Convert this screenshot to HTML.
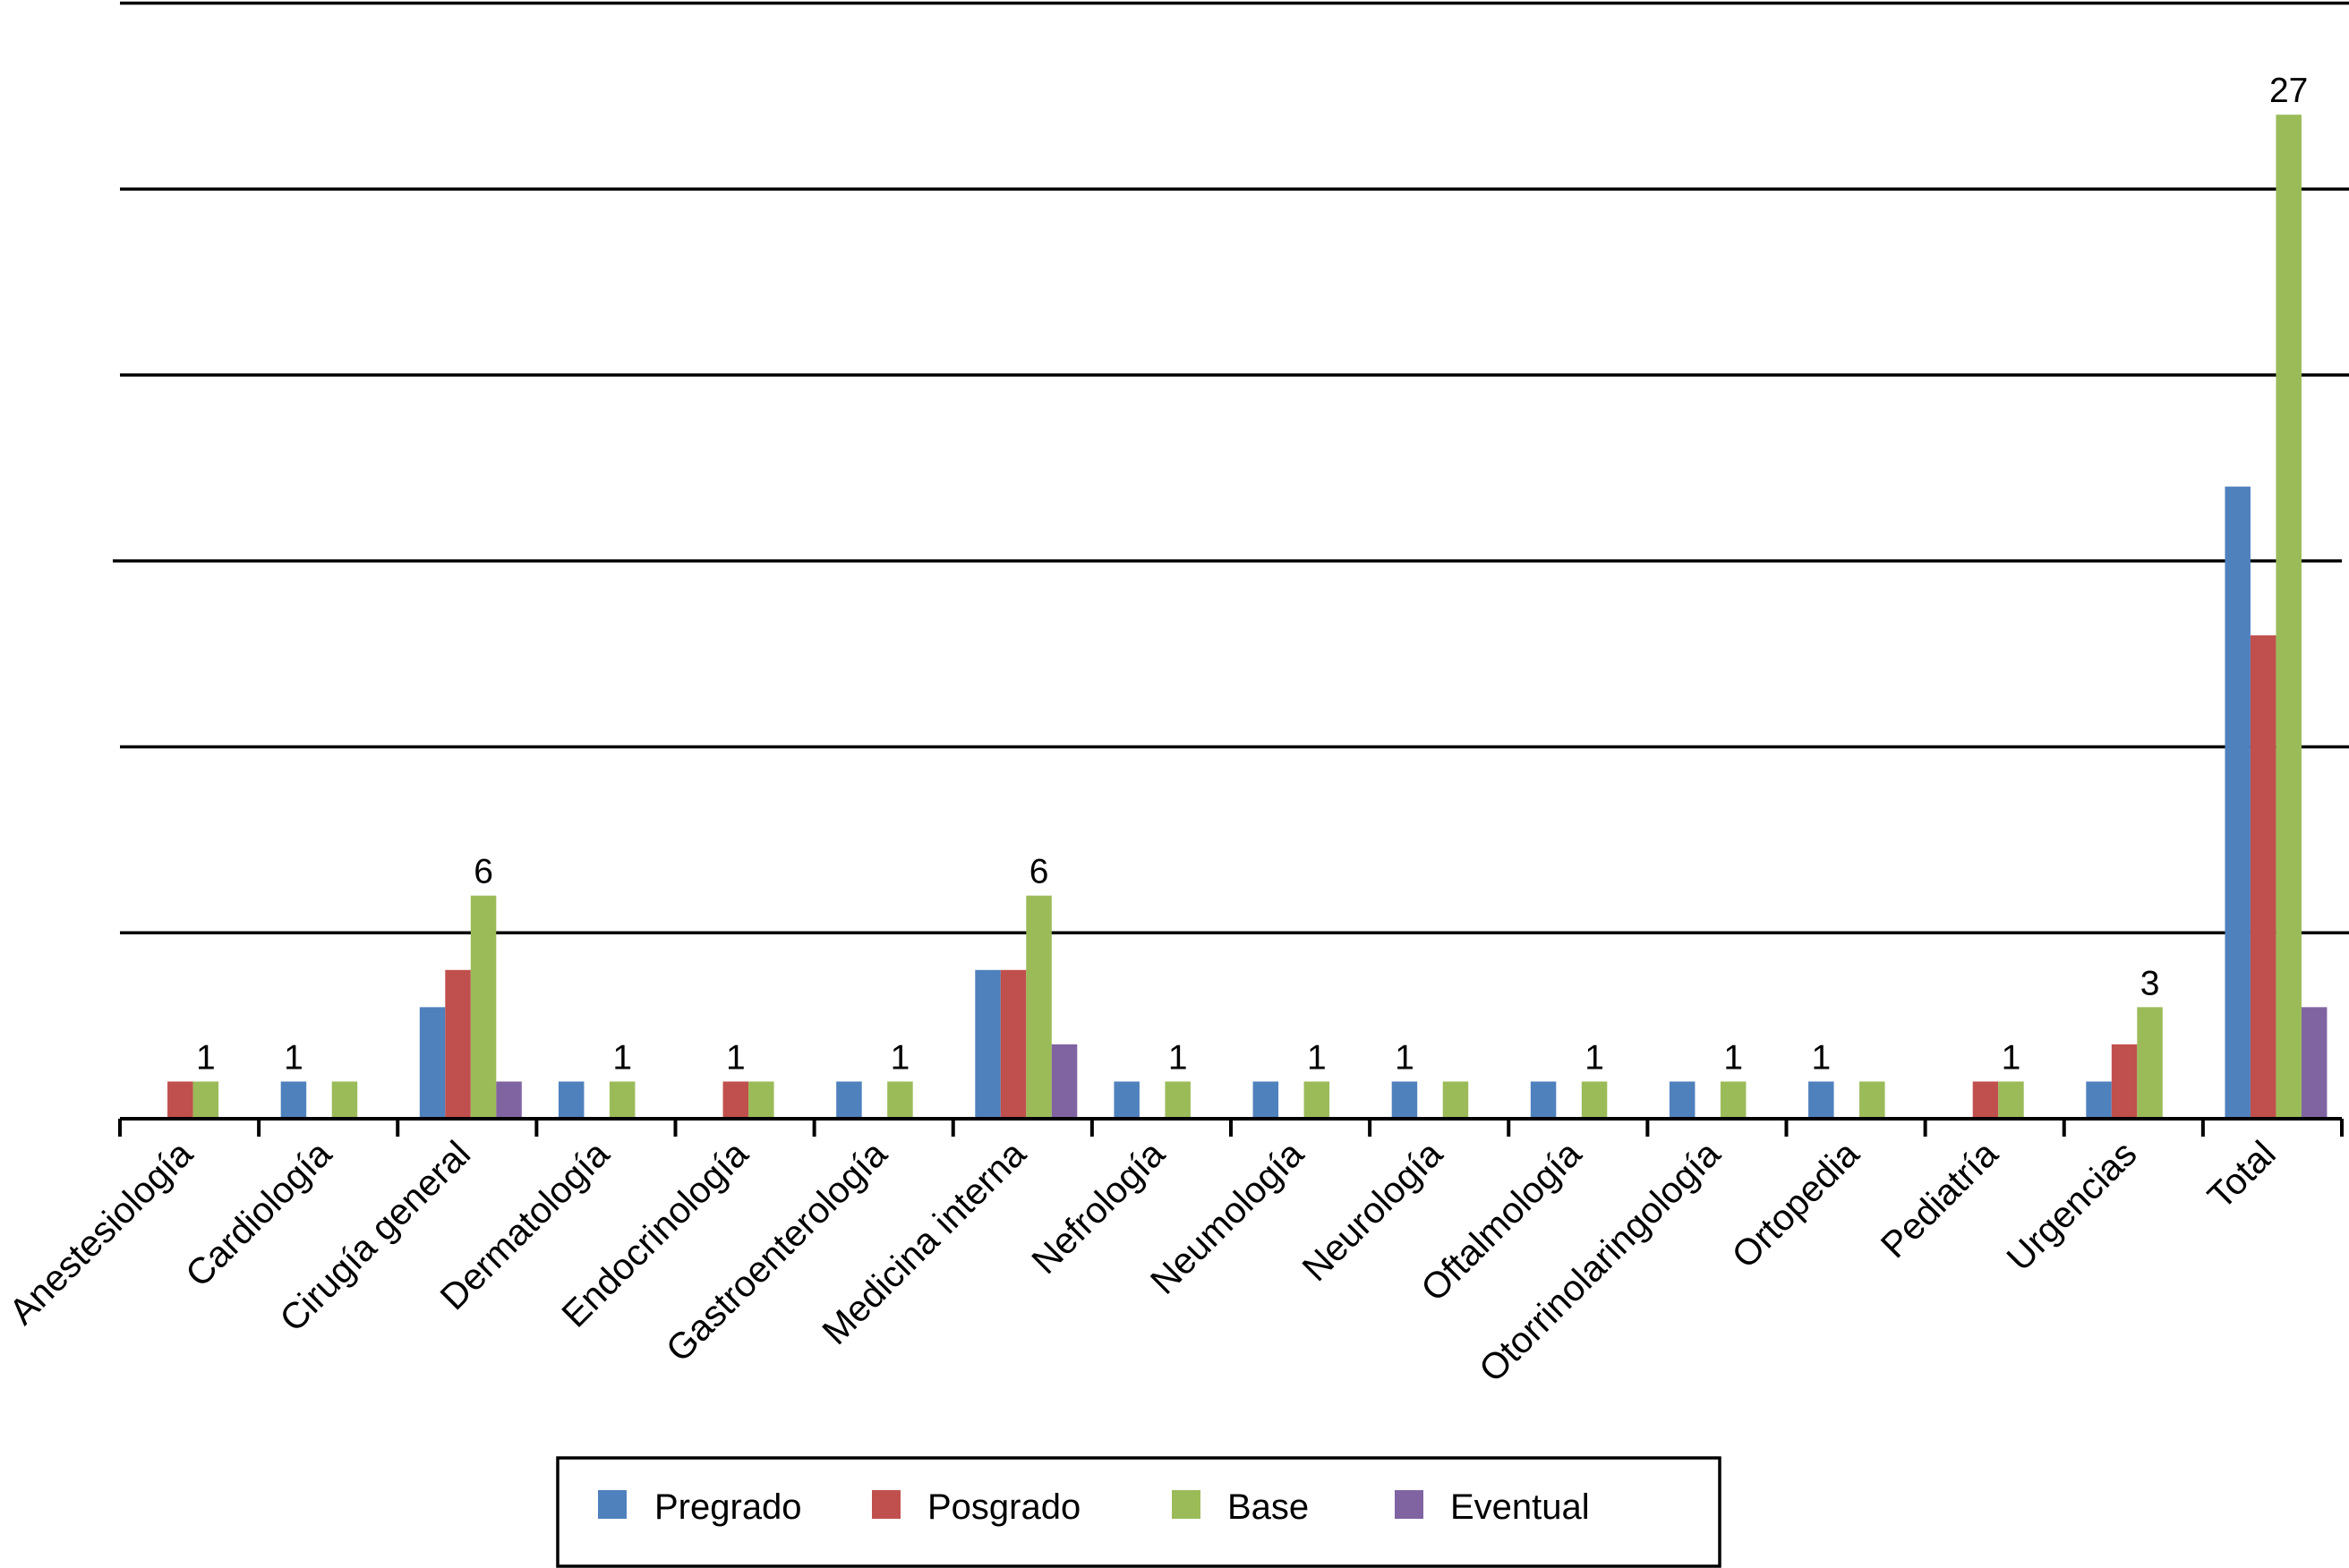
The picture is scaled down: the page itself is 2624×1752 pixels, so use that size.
<!DOCTYPE html>
<html><head><meta charset="utf-8"><style>
html,body{margin:0;padding:0;background:#fff;}
svg{display:block;font-family:"Liberation Sans",Arial,sans-serif;}
</style></head><body>
<svg id="chart" width="2624" height="1752" viewBox="0 0 2624 1752" xmlns="http://www.w3.org/2000/svg">
<g id="grid"></g>
<g id="bars"></g>
<g id="axis"></g>
<g id="vlabels"></g>
<g id="legend">
<rect x="623" y="1629" width="1298" height="121" fill="#fff" stroke="#000" stroke-width="3.5"/>
<g><rect x="668" y="1665" width="32" height="32" fill="#4F81BD"/><text x="731" y="1697" font-size="40">Pregrado</text></g>
<g><rect x="974" y="1665" width="32" height="32" fill="#C0504D"/><text x="1036" y="1697" font-size="40">Posgrado</text></g>
<g><rect x="1309" y="1665" width="32" height="32" fill="#9BBB59"/><text x="1371" y="1697" font-size="40">Base</text></g>
<g><rect x="1558" y="1665" width="32" height="32" fill="#8064A2"/><text x="1620" y="1697" font-size="40">Eventual</text></g>
</g>
</svg>
<script>
const categories=["Anestesiología","Cardiología","Cirugía general","Dermatología","Endocrinología","Gastroenterología","Medicina interna","Nefrología","Neumología","Neurología","Oftalmología","Otorrinolaringología","Ortopedia","Pediatría","Urgencias","Total"];
const pregrado=[0,1,3,1,0,1,4,1,1,1,1,1,1,0,1,17];
const posgrado=[1,0,4,0,1,0,4,0,0,0,0,0,0,1,2,13];
const base=[1,1,6,1,1,1,6,1,1,1,1,1,1,1,3,27];
const eventual=[0,0,1,0,0,0,2,0,0,0,0,0,0,0,0,3];
const labelValues=[1,1,6,1,1,1,6,1,1,1,1,1,1,1,3,27];
const labelSeries=[2,0,2,2,1,2,2,2,2,0,2,2,0,2,2,2];
const yTicks=[0,5,10,15,20,25,30];
const series=[pregrado,posgrado,base,eventual];
const seriesNames=["pregrado","posgrado","base","eventual"];
const colors=["#4F81BD","#C0504D","#9BBB59","#8064A2"];
const NS="http://www.w3.org/2000/svg";
const X0=134,X1=2616,Y0=1250,UNIT=41.55;
const catW=(X1-X0)/categories.length, barW=28.5;
function y(v){return Y0-v*UNIT;}
function cx(i){return X0+catW*(i+0.5)+4;}
function bx(i,s){return cx(i)-2*barW+s*barW;}
function mk(tag,attrs,parent){const e=document.createElementNS(NS,tag);for(const k in attrs)e.setAttribute(k,attrs[k]);parent.appendChild(e);return e;}
const grid=document.getElementById('grid');
yTicks.forEach(t=>{if(t===0)return;
 const l=mk('line',{x1:t===15?126:X0,x2:t===15?2616:2624,y1:y(t),y2:y(t),stroke:'#000','stroke-width':3.5},grid);
 
 
});
const bars=document.getElementById('bars');
series.forEach((arr,s)=>arr.forEach((v,i)=>{if(!v)return;
 const r=mk('rect',{x:bx(i,s),y:y(v),width:barW,height:v*UNIT,fill:colors[s]},bars);
 
 
}));
const axis=document.getElementById('axis');
const al=mk('line',{x1:X0,x2:X1,y1:Y0,y2:Y0,stroke:'#000','stroke-width':4},axis);


for(let i=0;i<=categories.length;i++){
 const tx=X0+catW*i;
 const tk=mk('line',{x1:tx,x2:tx,y1:Y0,y2:Y0+20,stroke:'#000','stroke-width':4},axis);
 
 
}
categories.forEach((c,i)=>{
 const px=cx(i)+2,py=Y0+42;
 const t=mk('text',{x:px,y:py,'text-anchor':'end','font-size':41,transform:`rotate(-45 ${px} ${py})`},axis);
 t.textContent=c;
 
 
});
const vl=document.getElementById('vlabels');
labelValues.forEach((v,i)=>{
 const s=labelSeries[i];
 const t=mk('text',{x:bx(i,s)+barW/2,y:y(series[s][i])-14,'text-anchor':'middle','font-size':39},vl);
 t.textContent=v;
 
 
});
</script>
</body></html>
